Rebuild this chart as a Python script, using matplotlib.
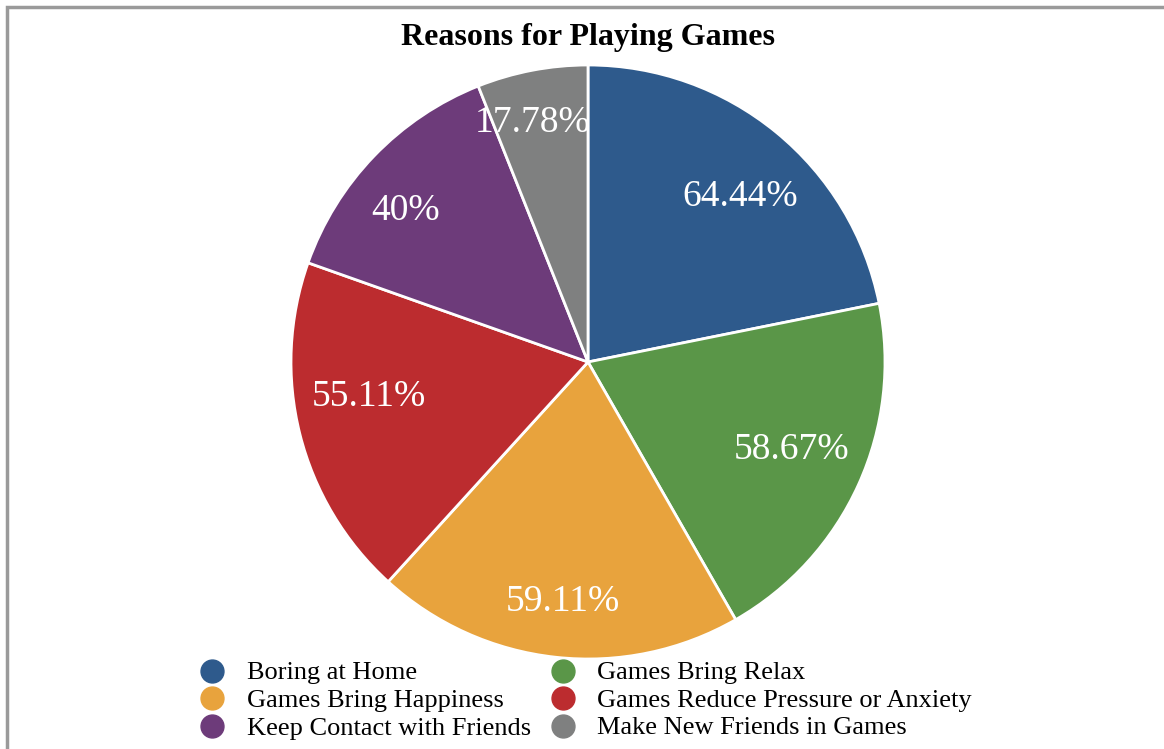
import numpy as np
import matplotlib
matplotlib.use("Agg")
import matplotlib.pyplot as plt
from matplotlib.lines import Line2D
from matplotlib.patches import Rectangle

reasons = ["Boring at Home", "Games Bring Relax", "Games Bring Happiness",
           "Games Reduce Pressure or Anxiety", "Keep Contact with Friends",
           "Make New Friends in Games"]
shares = [64.44, 58.67, 59.11, 55.11, 40, 17.78]
colors = ["#2E5A8C", "#5A9648", "#E8A33D", "#BC2C2F", "#6D3B7A", "#7F8080"]

plt.rcParams['font.family'] = ['Liberation Serif', 'DejaVu Serif']

fig = plt.figure(figsize=(11.64, 7.49), dpi=100)
W, H = 1164, 749

# outer frame (runs off the right and bottom edges)
fig.patches.append(Rectangle((7 / W, -0.1), 1.2, 1 - 7 / H + 0.1, transform=fig.transFigure,
                             fill=False, edgecolor="#9A9A9A", linewidth=2.5))

cx, cy, r = 588, 362, 297
ax = fig.add_axes([(cx - r) / W, (H - cy - r) / H, 2 * r / W, 2 * r / H])
wedges, _ = ax.pie(shares, colors=colors, startangle=90, counterclock=False,
                   wedgeprops=dict(edgecolor="white", linewidth=2))
ax.set_xlim(-1, 1)
ax.set_ylim(-1, 1)
ax.set_aspect("auto")
ax.axis("off")

# value labels inside each slice: radius and small angle nudge per slice
label_r = [0.764, 0.744, 0.80, 0.744, 0.805, 0.835]
label_da = [-2.8, 1.8, 0.2, -5.8, 3.8, 2.0]
for w, v, lr, da in zip(wedges, shares, label_r, label_da):
    ang = np.deg2rad((w.theta1 + w.theta2) / 2 + da)
    ax.text(lr * np.cos(ang), lr * np.sin(ang) - 0.01, f"{v:g}%", color="white",
            fontsize=27, ha="center", va="center")

fig.text(588 / W, 1 - 45 / H, "Reasons for Playing Games", ha="center", va="baseline",
         fontsize=23, fontweight="bold")

# two-column legend, read row by row
marker_x = [212, 563]
text_x = [247, 597]
row_y = [671, 698, 726]
for i, (name, c) in enumerate(zip(reasons, colors)):
    row, col = divmod(i, 2)
    y = 1 - row_y[row] / H
    fig.add_artist(Line2D([marker_x[col] / W], [y], transform=fig.transFigure,
                          marker="o", markersize=16.5, linestyle="none",
                          markerfacecolor=c, markeredgecolor=c))
    fig.text(text_x[col] / W, y, name, ha="left", va="center_baseline", fontsize=19)

fig.savefig("out.png", dpi=100)
